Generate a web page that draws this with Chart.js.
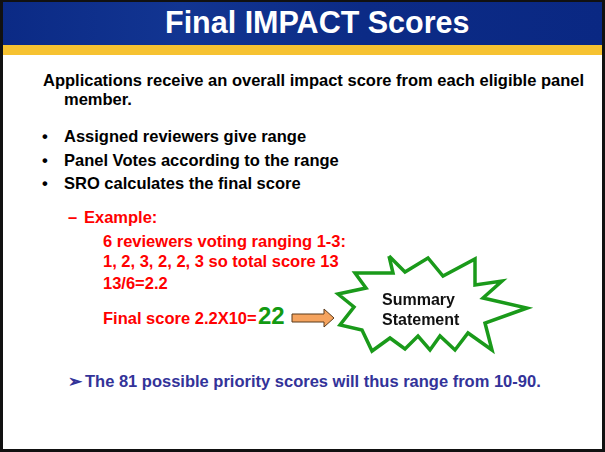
<!DOCTYPE html>
<html>
<head>
<meta charset="utf-8">
<script src="https://cdn.jsdelivr.net/npm/chart.js@4.4.0/dist/chart.umd.min.js"></script>
<style>
  html, body { margin: 0; padding: 0; background: #fff; }
  #slide {
    position: relative; width: 605px; height: 452px; overflow: hidden;
    font-family: "Liberation Sans", Arial, sans-serif; font-weight: bold;
    background: #fff;
  }
  #frame { position: absolute; left: 0; top: 0; width: 599px; height: 447px;
    border-left: 3px solid #111; border-right: 3px solid #111; border-bottom: 3px solid #111;
    border-top: 2px solid #111; pointer-events: none; z-index: 5; }
  #bar { position: absolute; left: 0; top: 0; width: 605px; height: 45px;
    background: linear-gradient(90deg, #0b2a85 0%, #123592 30%, #0c2b86 60%, #0a2883 100%); }
  #stripe { position: absolute; left: 0; top: 45px; width: 605px; height: 10px;
    background: #f6c231; }
  #title { position: absolute; left: 165px; top: 4px; white-space: nowrap;
    color: #fff; font-size: 30.5px; line-height: 36px; }
  .t { position: absolute; white-space: nowrap; font-size: 16.5px; line-height: 19px; color: #000; }
  .red { color: #ff0000; }
  #chartBox { position: absolute; left: 280px; top: 240px; width: 260px; height: 120px; }
</style>
</head>
<body>
<div id="slide">
  <div id="bar"></div>
  <div id="stripe"></div>
  <div id="title">Final IMPACT Scores</div>

  <div class="t" style="left:43px; top:71px;">Applications receive an overall impact score from each eligible panel</div>
  <div class="t" style="left:64px; top:90px;">member.</div>

  <div class="t" style="left:42px; top:126.5px;">•</div>
  <div class="t" style="left:64px; top:126.5px;">Assigned reviewers give range</div>
  <div class="t" style="left:42px; top:150.5px;">•</div>
  <div class="t" style="left:64px; top:150.5px;">Panel Votes according to the range</div>
  <div class="t" style="left:42px; top:174px;">•</div>
  <div class="t" style="left:64px; top:174px;">SRO calculates the final score</div>

  <div class="t red" style="left:68px; top:208px;">–</div>
  <div class="t red" style="left:84px; top:208px;">Example:</div>
  <div class="t red" style="left:103px; top:232px;">6 reviewers voting ranging 1-3:</div>
  <div class="t red" style="left:103px; top:251.5px;">1, 2, 3, 2, 2, 3 so total score 13</div>
  <div class="t red" style="left:103px; top:274px;">13/6=2.2</div>
  <div class="t red" style="left:103px; top:309px;">Final score 2.2X10=</div>
  <div class="t" style="left:258px; top:302px; color:#129a12; font-size:24px; line-height:28px;">22</div>

  <div id="chartBox"><canvas id="shapes" width="260" height="120"></canvas></div>

  <div class="t" style="left:382px; top:290px; color:#111; font-size:16px; line-height:20px; z-index:3;">Summary<br>Statement</div>

  <div class="t" style="left:68px; top:372px; color:#333399;">➢</div>
  <div class="t" style="left:85px; top:372px; color:#333399;">The 81 possible priority scores will thus range from 10-90.</div>

  <div id="frame"></div>
</div>

<script>
// star outline vertices (slide units), clockwise from top-left tip
const starX = [389, 405, 428, 443, 475, 475, 502, 483, 527, 485, 492, 468, 455, 440, 430, 418, 405, 390, 372, 362, 340, 354, 338, 366, 355, 393, 389];
const starY = [256, 272, 258, 276, 259, 285, 281, 298, 308, 323, 350, 333, 350, 336, 350, 336, 349, 338, 351, 330, 325, 307, 294, 288, 273, 273, 256];

// block arrow vertices
const arrowX = [292, 324, 324, 334, 324, 324, 292, 292];
const arrowY = [314, 314, 309, 318, 327, 322, 322, 314];

function toPoints(xs, ys) {
    return xs.map((x, i) => ({ x: x, y: ys[i] }));
}

const ctx = document.getElementById('shapes').getContext('2d');

new Chart(ctx, {
    type: 'scatter',
    data: {
        datasets: [
            {
                data: toPoints(starX, starY),
                showLine: true,
                borderColor: '#1a9a1a',
                backgroundColor: '#ffffff',
                borderWidth: 3.5,
                borderJoinStyle: 'miter',
                fill: 'shape',
                pointRadius: 0,
                tension: 0
            },
            {
                data: toPoints(arrowX, arrowY),
                showLine: true,
                borderColor: '#5a3a1a',
                backgroundColor: '#f5a35e',
                borderWidth: 1,
                borderJoinStyle: 'miter',
                fill: 'shape',
                pointRadius: 0,
                tension: 0
            }
        ]
    },
    options: {
        responsive: false,
        animation: false,
        layout: { padding: 0 },
        plugins: { legend: { display: false }, tooltip: { enabled: false } },
        scales: {
            x: { type: 'linear', min: 280, max: 540, display: false },
            y: { type: 'linear', min: 240, max: 360, reverse: true, display: false }
        }
    }
});
</script>
</body>
</html>
